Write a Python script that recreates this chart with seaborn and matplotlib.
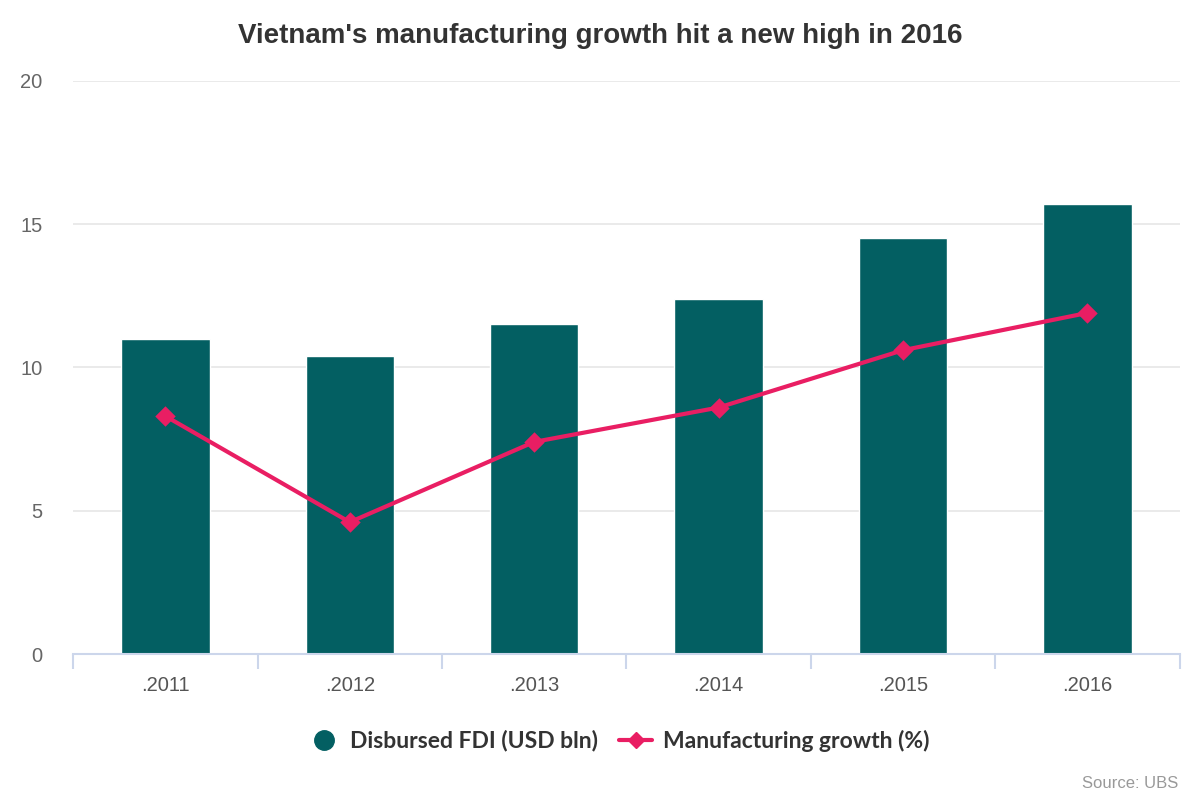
"""Vietnam FDI vs manufacturing growth: bars + line combo chart."""

import matplotlib
matplotlib.use("Agg")
import matplotlib.pyplot as plt
from matplotlib.lines import Line2D
from matplotlib.ticker import FixedLocator
import pandas as pd
import seaborn as sns

years = [".2011", ".2012", ".2013", ".2014", ".2015", ".2016"]
fdi = [11.0, 10.4, 11.5, 12.4, 14.5, 15.7]
growth = [8.3, 4.6, 7.4, 8.6, 10.6, 11.9]
y_ticks = [0, 5, 10, 15, 20]

BAR_COLOR = "#035f62"
LINE_COLOR = "#e91e63"

sns.set_theme(style="white")
plt.rcParams["font.family"] = ["Liberation Sans", "DejaVu Sans"]

df = pd.DataFrame({"year": years, "fdi": fdi, "growth": growth})

fig = plt.figure(figsize=(12, 8), dpi=100)
ax = fig.add_axes([0.061, 0.1825, 0.922, 0.7165])

sns.barplot(data=df, x="year", y="fdi", color=BAR_COLOR, saturation=1,
            width=0.48, ax=ax, zorder=2)
sns.pointplot(data=df, x="year", y="growth", color=LINE_COLOR, markers="D",
              markersize=8, linewidth=3, ax=ax, zorder=3)

ax.set_xlim(-0.5, len(years) - 0.5)
ax.set_ylim(0, 20)
ax.set_yticks(y_ticks)
ax.yaxis.grid(True, color="#e6e6e6", linewidth=1.2, zorder=0)
ax.set_axisbelow(True)
ax.set_xlabel("")
ax.set_ylabel("")

for side in ["left", "right", "top"]:
    ax.spines[side].set_visible(False)
ax.spines["bottom"].set_color("#ccd6eb")
ax.spines["bottom"].set_linewidth(1.5)

ax.tick_params(axis="y", length=0, pad=22, labelsize=14.5, labelcolor="#666666")
ax.tick_params(axis="x", which="major", length=0, pad=16, labelsize=14.5,
               labelcolor="#555555")
ax.xaxis.set_minor_locator(FixedLocator([i - 0.5 for i in range(len(years) + 1)]))
ax.tick_params(axis="x", which="minor", length=11, width=1.5, color="#ccd6eb",
               direction="out", bottom=True)

fig.text(0.5, 0.955, "Vietnam's manufacturing growth hit a new high in 2016",
         ha="center", va="center", fontsize=20, fontweight="bold",
         color="#333333")

handles = [
    Line2D([], [], marker="o", linestyle="none", markersize=14,
           markerfacecolor=BAR_COLOR, markeredgecolor=BAR_COLOR),
    Line2D([], [], marker="D", color=LINE_COLOR, linewidth=3, markersize=8),
]
labels = ["Disbursed FDI (USD bln)", "Manufacturing growth (%)"]
fig.legend(handles, labels, loc="center", bbox_to_anchor=(0.515, 0.074), ncol=2,
           frameon=False, handlelength=1.45, columnspacing=0.9, handletextpad=0.45,
           prop={"family": ["Lato", "DejaVu Sans"], "weight": "bold", "size": 16.5},
           labelcolor="#333333")

fig.text(0.982, 0.021, "Source: UBS", ha="right", va="center", fontsize=12,
         color="#999999")

fig.savefig("out.png", dpi=100)
plt.close(fig)
